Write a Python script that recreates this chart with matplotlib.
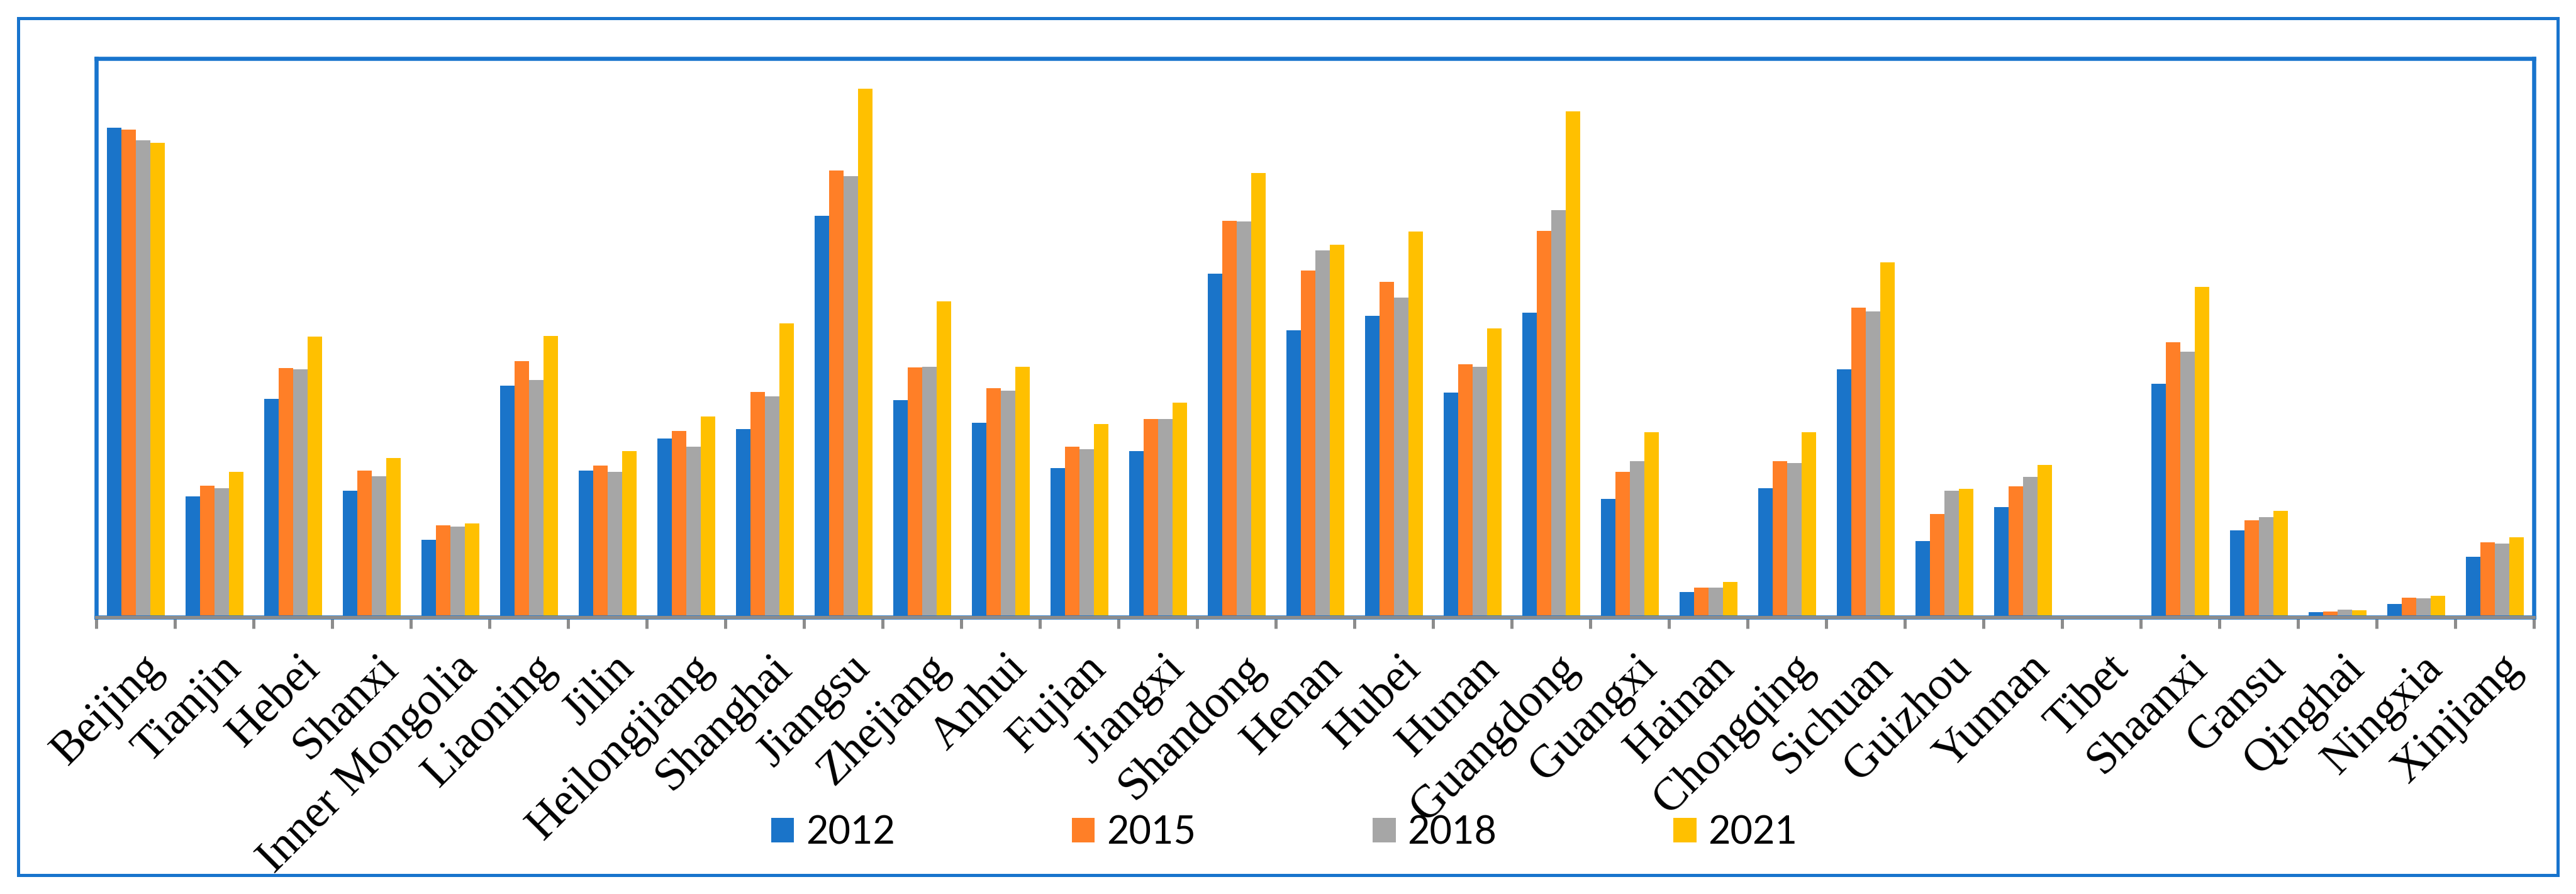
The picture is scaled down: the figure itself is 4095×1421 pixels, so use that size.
import numpy as np
from matplotlib import pyplot as plt
from matplotlib.patches import Rectangle
import matplotlib.transforms as mtransforms

provinces = ["Beijing", "Tianjin", "Hebei", "Shanxi", "Inner Mongolia", "Liaoning",
             "Jilin", "Heilongjiang", "Shanghai", "Jiangsu", "Zhejiang", "Anhui",
             "Fujian", "Jiangxi", "Shandong", "Henan", "Hubei", "Hunan", "Guangdong",
             "Guangxi", "Hainan", "Chongqing", "Sichuan", "Guizhou", "Yunnan", "Tibet",
             "Shaanxi", "Gansu", "Qinghai", "Ningxia", "Xinjiang"]
years = ["2012", "2015", "2018", "2021"]

# values (relative units, axis has no scale)
v2012 = [857, 212, 382, 222, 135, 406, 257, 313, 329, 703, 380, 340, 261, 291, 602,
         503, 528, 393, 533, 207, 44, 226, 434, 133, 193, 0, 409, 152, 9, 23, 106]
v2015 = [854, 230, 436, 257, 161, 449, 265, 326, 394, 782, 437, 401, 299, 347, 694,
         607, 587, 443, 677, 255, 52, 273, 542, 181, 229, 0, 482, 170, 10, 34, 131]
v2018 = [835, 226, 434, 247, 159, 415, 255, 299, 387, 772, 439, 397, 294, 347, 693,
         642, 560, 439, 713, 273, 52, 270, 535, 222, 246, 0, 465, 175, 13, 33, 129]
v2021 = [831, 255, 491, 279, 164, 492, 291, 351, 515, 926, 553, 438, 338, 376, 778,
         652, 675, 506, 886, 324, 62, 324, 622, 225, 267, 0, 579, 186, 12, 37, 140]

colors = ["#1A74C9", "#FF7F27", "#A6A6A6", "#FFC000"]
frame_blue = "#1874CD"
axis_gray = "#8C8C8C"


def main():
    fig = plt.figure(figsize=(40.95, 14.21), dpi=100)
    ax = fig.add_axes([0.03748, 0.30964, 0.94628, 0.62526])

    x = np.arange(len(provinces))
    w = 0.184
    for k, vals in enumerate([v2012, v2015, v2018, v2021]):
        ax.bar(x + (k - 1.5) * w, vals, width=w, color=colors[k], label=years[k], zorder=2)

    ax.set_xlim(-0.5, len(provinces) - 0.5)
    ax.set_ylim(0, 979)
    ax.set_yticks([])

    for s in ax.spines.values():
        s.set_color(frame_blue)
        s.set_linewidth(4.7)
    ax.axhline(0, color=axis_gray, lw=3.6, zorder=3, clip_on=False)

    ax.set_xticks(np.arange(len(provinces) + 1) - 0.5)
    ax.set_xticklabels([])
    ax.tick_params(axis="x", which="major", direction="out", length=13, width=3.6,
                   color=axis_gray)
    ax.set_xticks(x, minor=True)
    ax.set_xticklabels(provinces, minor=True, rotation=45, ha="right", va="top",
                       rotation_mode="anchor", family="Liberation Serif", fontsize=53)
    ax.tick_params(axis="x", which="minor", length=0, pad=34)
    offset = mtransforms.ScaledTranslation(0.08, 0, fig.dpi_scale_trans)
    for lab in ax.get_xticklabels(minor=True):
        lab.set_transform(lab.get_transform() + offset)

    fig.legend(loc="center", bbox_to_anchor=(0.4985, 0.0686), ncol=4, frameon=False,
               prop={"family": "Lato", "size": 44}, handlelength=0.6, handleheight=0.6,
               handletextpad=0.3, columnspacing=4.6)

    fig.patches.append(Rectangle((0.0072, 0.0211), 0.9856, 0.9588, transform=fig.transFigure,
                                 fill=False, edgecolor=frame_blue, lw=3.6))

    fig.savefig("out.png", dpi=100)


if __name__ == "__main__":
    main()
